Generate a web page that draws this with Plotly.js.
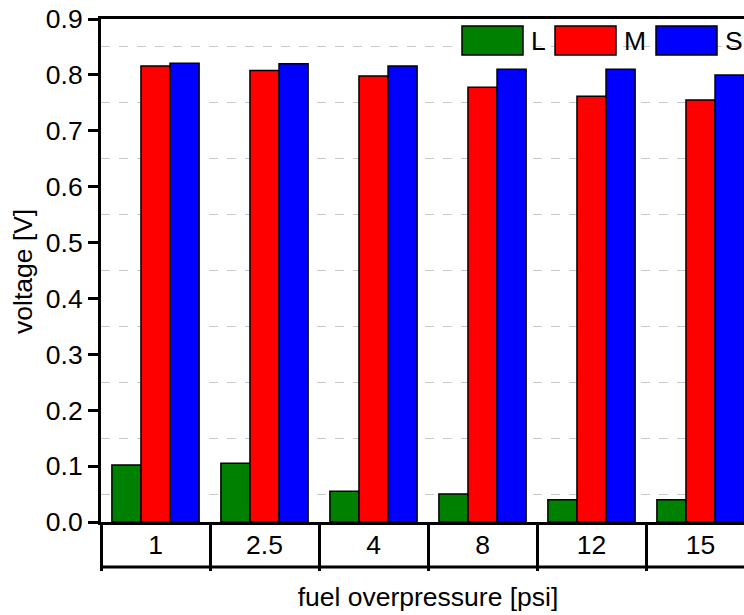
<!DOCTYPE html>
<html>
<head>
<meta charset="utf-8">
<script src="https://cdn.plot.ly/plotly-3.0.1.min.js"></script>
<style>
html,body{margin:0;padding:0;overflow:hidden;background:#fff;width:744px;height:615px;}
#chart{width:800px;height:615px;}
</style>
</head>
<body>
<div id="chart"></div>
<script>
// ---- data ----
const categories = ["1", "2.5", "4", "8", "12", "15"];
const valuesL = [0.102, 0.105, 0.055, 0.050, 0.040, 0.040];
const valuesM = [0.816, 0.808, 0.798, 0.778, 0.762, 0.755];
const valuesS = [0.821, 0.820, 0.816, 0.810, 0.810, 0.800];
const seriesNames = ["L", "M", "S"];
const seriesColors = ["#008000", "#ff0000", "#0000ff"];
const yTickVals = [0, 0.1, 0.2, 0.3, 0.4, 0.5, 0.6, 0.7, 0.8, 0.9];
const yTickText = ["0.0", "0.1", "0.2", "0.3", "0.4", "0.5", "0.6", "0.7", "0.8", "0.9"];
const xTitle = "fuel overpressure [psi]";
const yTitle = "voltage [V]";

const FONT = "Liberation Sans, Arial, sans-serif";
const allValues = [valuesL, valuesM, valuesS];

const traces = allValues.map((vals, i) => ({
  type: "bar",
  name: seriesNames[i],
  x: categories,
  y: vals,
  marker: {color: seriesColors[i], line: {color: "#000", width: 1.5}},
  showlegend: false,
  hoverinfo: "skip"
}));

// custom legend (large swatches)
const legX = [462, 555, 656];
const W = 800, H = 615, mL = 101, mR = 45, mT = 19, mB = 93;
const pw = W - mL - mR, ph = H - mT - mB;
const px = v => (v - mL) / pw;
const py = v => (H - mB - v) / ph;
const shapes = [];
const annotations = [];
seriesNames.forEach((n, i) => {
  shapes.push({type: "rect", xref: "paper", yref: "paper",
    x0: px(legX[i]), x1: px(legX[i] + 61), y0: py(55), y1: py(26),
    fillcolor: seriesColors[i], line: {color: "#000", width: 1.5}});
  annotations.push({xref: "paper", yref: "paper", x: px(legX[i] + 67), y: py(40.5),
    xanchor: "left", yanchor: "middle", text: n, showarrow: false,
    font: {family: FONT, size: 26.5, color: "#000"}});
});
// y-axis title
annotations.push({xref: "paper", yref: "paper", x: px(23), y: py(272),
  xanchor: "center", yanchor: "middle", textangle: -90, text: yTitle, showarrow: false,
  font: {family: FONT, size: 26.5, color: "#000"}});
// bottom line of category table
shapes.push({type: "line", xref: "paper", yref: "paper", x0: 0, x1: 1,
  y0: py(567), y1: py(567), line: {color: "#000", width: 3}});

const layout = {
  width: W, height: H,
  margin: {l: mL, r: mR, t: mT, b: mB, pad: 0},
  paper_bgcolor: "#fff", plot_bgcolor: "#fff",
  barmode: "group", bargap: 0.2, bargroupgap: 0,
  font: {family: FONT, color: "#000"},
  xaxis: {
    type: "category", range: [-0.5, 5.5],
    showline: true, linecolor: "#000", linewidth: 3, mirror: true,
    ticks: "outside", tickson: "boundaries", ticklen: 46, tickwidth: 3, tickcolor: "#000",
    ticklabelstandoff: -3,
    tickfont: {family: FONT, size: 26.5, color: "#000"},
    showgrid: false, zeroline: false,
    title: {text: xTitle, font: {family: FONT, size: 26.5, color: "#000"}, standoff: 29}
  },
  yaxis: {
    range: [0, 0.9],
    tickvals: yTickVals, ticktext: yTickText,
    showline: true, linecolor: "#000", linewidth: 3, mirror: true,
    ticks: "outside", ticklen: 10, tickwidth: 3, tickcolor: "#000",
    tickfont: {family: FONT, size: 26.5, color: "#000"},
    showgrid: false, zeroline: false,
    minor: {tick0: 0.05, dtick: 0.1, showgrid: true, gridcolor: "#c8c8c8", griddash: "dash", gridwidth: 1, ticks: ""}
  },
  shapes: shapes,
  annotations: annotations,
  showlegend: false
};

Plotly.newPlot("chart", traces, layout, {displayModeBar: false, staticPlot: true});
</script>
</body>
</html>
